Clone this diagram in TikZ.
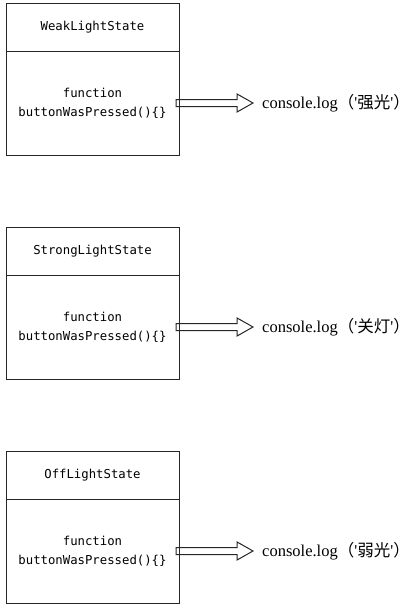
\documentclass[tikz,border=0pt]{standalone}
\usepackage{fontspec}
\setmainfont{Liberation Serif}
\setmonofont{DejaVu Sans Mono}
\newfontfamily\cjk{Noto Sans CJK SC}
\usetikzlibrary{shapes.arrows,positioning}
\newcommand{\sq}{\textquotesingle}

\begin{document}
\begin{tikzpicture}[
    x=1pt, y=-1pt,
    node distance=72pt,
    statehead/.style={rectangle, draw=black!85, line width=1pt, outer sep=0pt, minimum width=173pt, minimum height=48pt, align=center, font=\ttfamily\fontsize{12.3}{19}\selectfont},
    statebody/.style={statehead, minimum height=104pt},
    hollow/.style={single arrow, draw=black!85, line width=1pt, outer sep=0pt, inner xsep=0pt, inner ysep=3pt, minimum height=77pt, single arrow head extend=5.5pt, single arrow tip angle=59, anchor=tail},
    logtext/.style={inner sep=0pt, font=\fontsize{16.5}{18}\selectfont}
]
    \useasboundingbox (0,0) rectangle (410,605);

    \node[statehead] (weak) at (92.5,27) {WeakLightState};
    \node[statebody, below=0pt of weak] (weakfn) {function\\buttonWasPressed()\{\}};
    \node[statehead, below=of weakfn] (strong) {StrongLightState};
    \node[statebody, below=0pt of strong] (strongfn) {function\\buttonWasPressed()\{\}};
    \node[statehead, below=of strongfn] (off) {OffLightState};
    \node[statebody, below=0pt of off] (offfn) {function\\buttonWasPressed()\{\}};

    \node[hollow] (weakarr) at ([xshift=-3pt]weakfn.east) {};
    \node[hollow] (strongarr) at ([xshift=-3pt]strongfn.east) {};
    \node[hollow] (offarr) at ([xshift=-3pt]offfn.east) {};

    \node[logtext, right=9pt of weakarr] (weaklog) {console.log{\cjk （}\sq{\cjk 强光}\sq{\cjk ）}};
    \node[logtext, right=9pt of strongarr] (stronglog) {console.log{\cjk （}\sq{\cjk 关灯}\sq{\cjk ）}};
    \node[logtext, right=9pt of offarr] (offlog) {console.log{\cjk （}\sq{\cjk 弱光}\sq{\cjk ）}};
\end{tikzpicture}
\end{document}
